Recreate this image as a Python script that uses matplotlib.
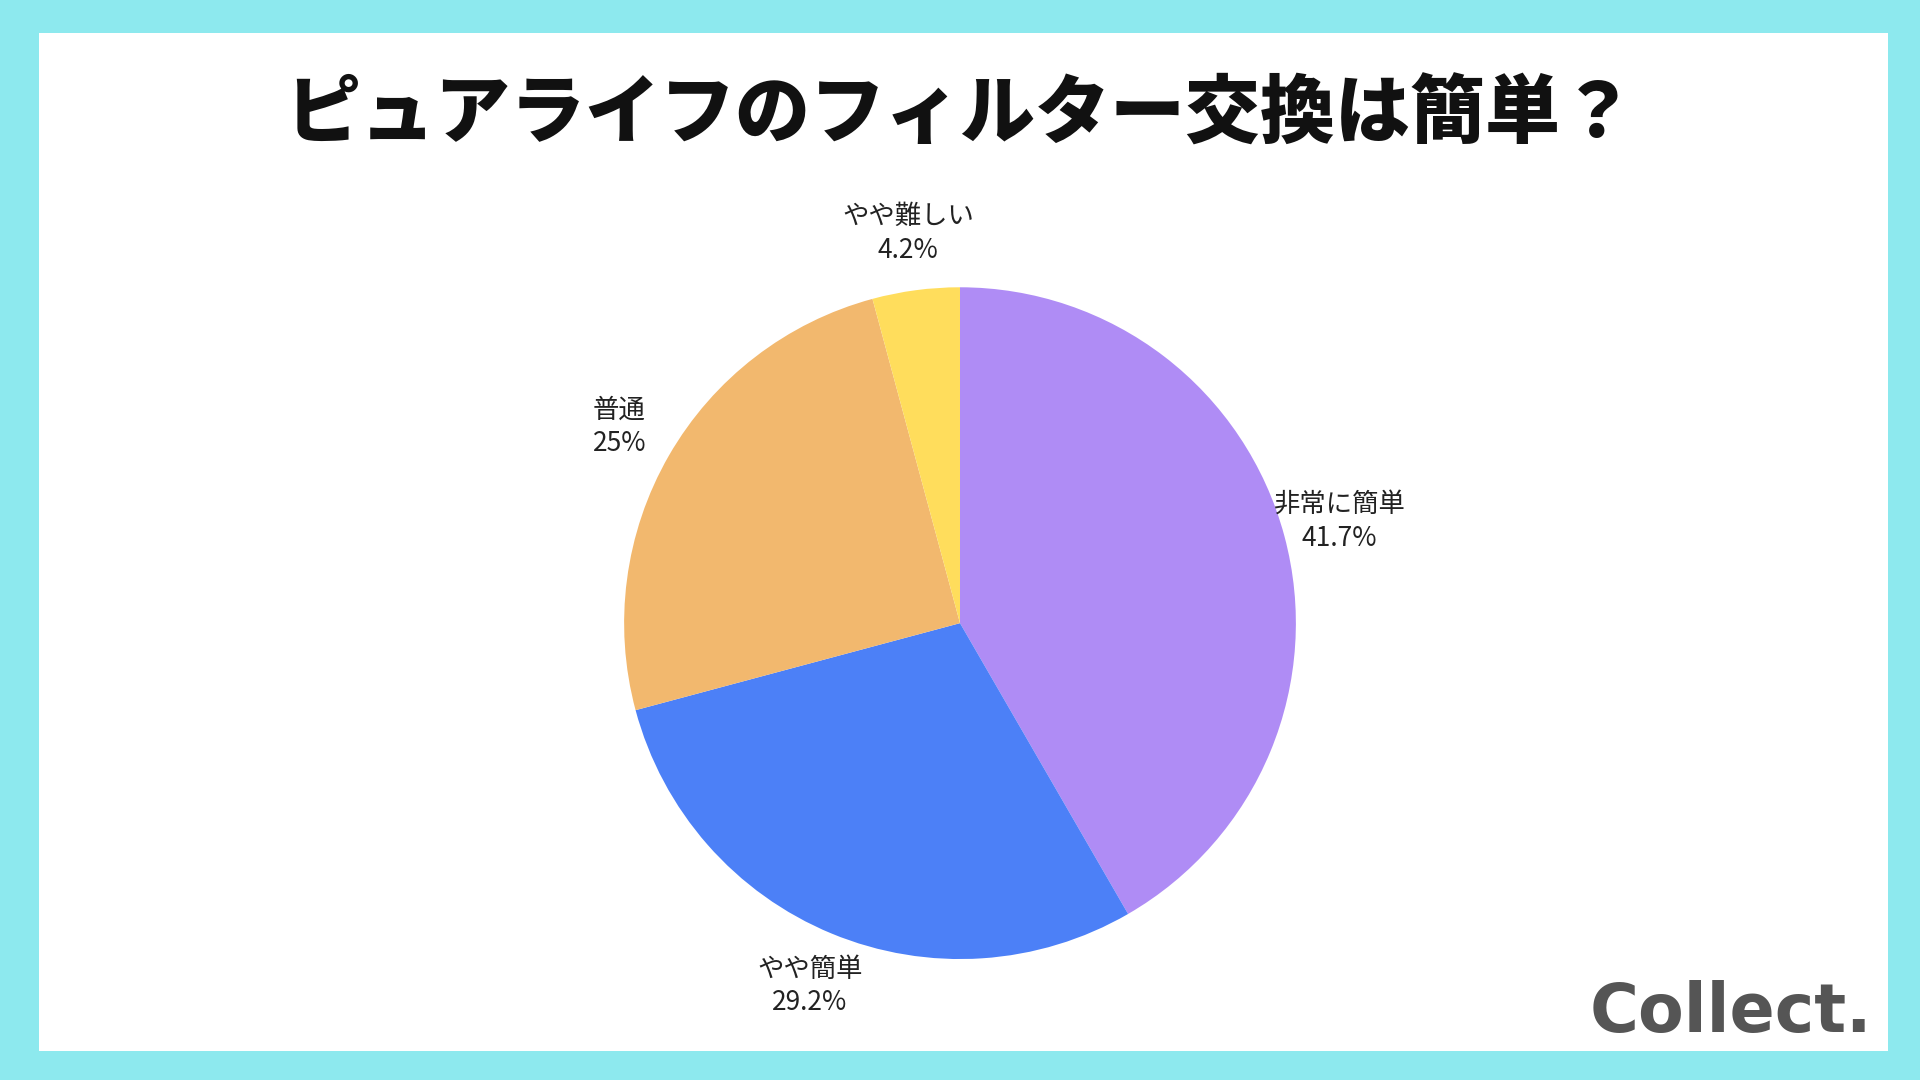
import matplotlib.pyplot as plt
from matplotlib.patches import Rectangle

plt.rcParams['font.family'] = ['Noto Sans CJK JP', 'DejaVu Sans']

labels = ["非常に簡単", "やや簡単", "普通", "やや難しい"]
values = [41.7, 29.2, 25.0, 4.2]
pct_text = ["41.7%", "29.2%", "25%", "4.2%"]
colors = ["#AF8CF5", "#4C80F7", "#F2B86E", "#FFDD5C"]

fig = plt.figure(figsize=(19.2, 10.8), dpi=100, facecolor="#8DE9EE")
fig.patches.append(Rectangle((0.0204, 0.027), 0.9630, 0.942, transform=fig.transFigure,
                             facecolor="white", edgecolor="none", zorder=-5))

fig.text(0.5, 0.893, "ピュアライフのフィルター交換は簡単？", ha="center", va="center",
         fontsize=54, fontweight="heavy", color="#111111")

ax = fig.add_axes([0.325, 0.112, 0.35, 0.622])
ax.set_zorder(2)
ax.patch.set_visible(False)
ax.pie(values, colors=colors, startangle=90, counterclock=False,
       labels=[f"{l}\n{p}" for l, p in zip(labels, pct_text)], labeldistance=1.17,
       textprops=dict(fontsize=19, ha="center", va="center", color="#222222",
                      linespacing=1.3))
ax.set_xlim(-1, 1)
ax.set_ylim(-1, 1)
ax.set_aspect("equal")

fig.text(0.975, 0.062, "Collect.", ha="right", va="center", fontsize=48,
         fontweight="bold", color="#555555", family=["DejaVu Sans"])

fig.savefig("out.png", dpi=100, facecolor=fig.get_facecolor())
